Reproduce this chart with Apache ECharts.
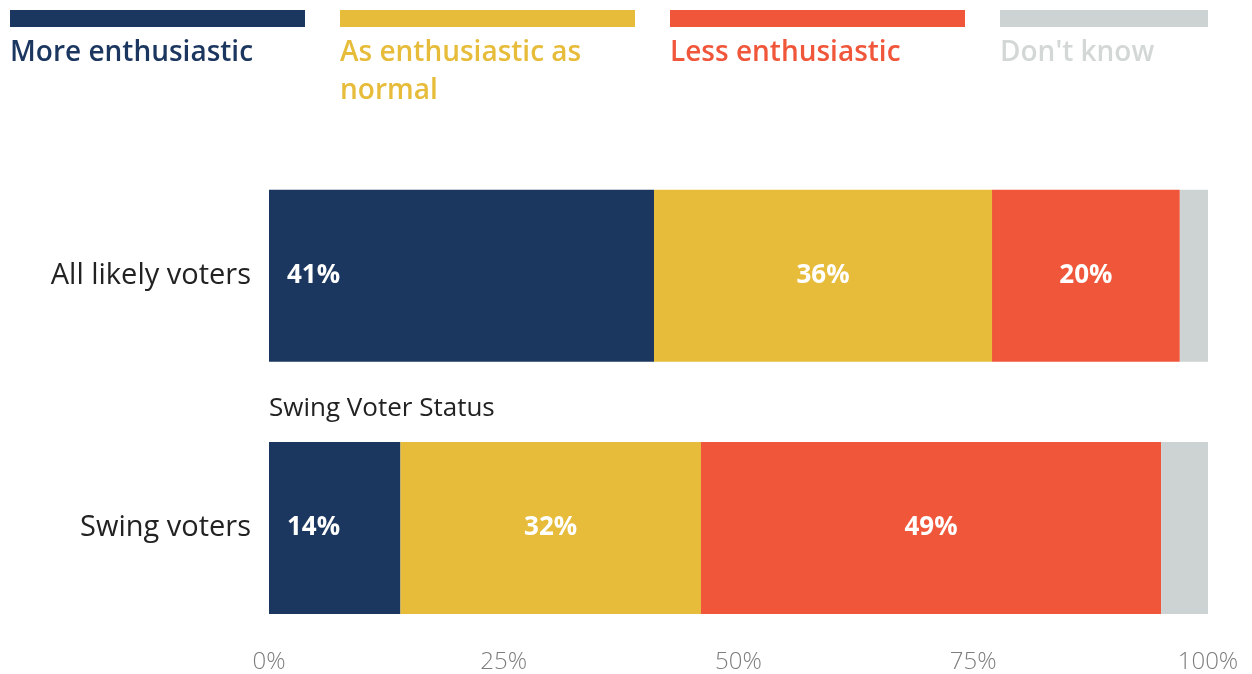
<!DOCTYPE html>
<html>
<head>
<meta charset="utf-8">
<script src="https://cdn.jsdelivr.net/npm/echarts@6/dist/echarts.min.js"></script>
<style>
  html, body { margin: 0; padding: 0; background: #fff; }
  #chart { width: 1252px; height: 674px; }
</style>
</head>
<body>
<div id="chart"></div>
<script>
// Survey groups (top to bottom)
const groups = ['All likely voters', 'Swing voters'];

// Response shares, percent
const seriesNames = ['More enthusiastic', 'As enthusiastic as normal', 'Less enthusiastic', "Don't know"];
const moreEnthusiastic = [41, 14];
const asNormal = [36, 32];
const lessEnthusiastic = [20, 49];
const dontKnow = [3, 5];

const xTicks = [0, 25, 50, 75, 100];
const subheading = 'Swing Voter Status';

const colors = ['#1b365f', '#e6bc3a', '#f0563a', '#cdd3d2'];
const legendTextColors = ['#1b365f', '#e6bc3a', '#f0563a', '#d3d8d7'];
const FONT = '"Open Sans", Lato, sans-serif';

const values = [moreEnthusiastic, asNormal, lessEnthusiastic, dontKnow];

const series = seriesNames.map((name, i) => ({
  name: name,
  type: 'bar',
  stack: 'total',
  barWidth: 172,
  data: values[i],
  itemStyle: { color: colors[i] },
  emphasis: { disabled: true },
  label: {
    show: i < 3,
    position: i === 0 ? 'insideLeft' : 'inside',
    distance: 18,
    formatter: p => p.value + '%',
    color: '#fff',
    fontFamily: FONT,
    fontWeight: 'bold',
    fontSize: 26
  }
}));

// Legend: colored strip with caption below
const legendGraphics = [];
seriesNames.forEach((name, i) => {
  const x = 10 + i * 330;
  const w = Math.min(295, 1208 - x);
  legendGraphics.push({
    type: 'rect',
    left: x, top: 10,
    shape: { width: w, height: 17 },
    style: { fill: colors[i] },
    silent: true
  });
  legendGraphics.push({
    type: 'text',
    left: x, top: 34,
    style: {
      text: name,
      width: w,
      overflow: 'break',
      fill: legendTextColors[i],
      font: '600 28px ' + FONT,
      lineHeight: 38
    },
    silent: true
  });
});

legendGraphics.push({
  type: 'text',
  left: 269, top: 396,
  style: {
    text: subheading,
    fill: '#222',
    font: '26px ' + FONT
  },
  silent: true
});

const chart = echarts.init(document.getElementById('chart'), null, { renderer: 'canvas' });
chart.setOption({
  animation: false,
  backgroundColor: '#fff',
  grid: { left: 269, right: 44, top: 149.5, bottom: 17.5, containLabel: false },
  xAxis: {
    type: 'value',
    min: 0, max: 100, interval: 25,
    axisLine: { show: false },
    axisTick: { show: false },
    splitLine: { show: false },
    axisLabel: {
      margin: -4,
      color: '#7d7d7d',
      fontFamily: FONT,
      fontWeight: 300,
      fontSize: 24,
      formatter: v => (xTicks.indexOf(v) >= 0 ? v + '%' : '')
    }
  },
  yAxis: {
    type: 'category',
    inverse: true,
    data: groups,
    axisLine: { show: false },
    axisTick: { show: false },
    axisLabel: {
      margin: 18,
      color: '#222',
      fontFamily: FONT,
      fontSize: 29
    }
  },
  series: series,
  graphic: legendGraphics
});
</script>
</body>
</html>
